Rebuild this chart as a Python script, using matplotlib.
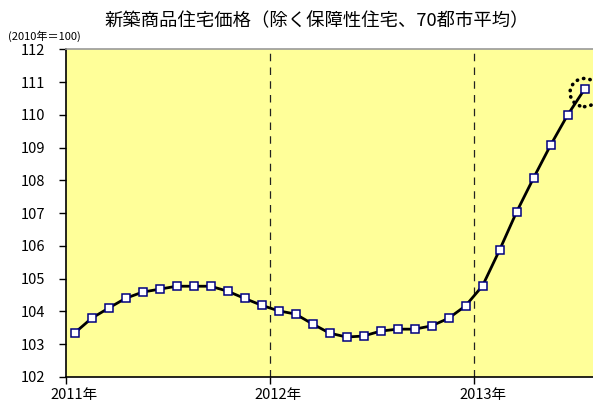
import matplotlib
matplotlib.use("Agg")
import matplotlib.pyplot as plt
from matplotlib.patches import Ellipse

plt.rcParams['font.family'] = ['Noto Sans CJK JP', 'DejaVu Sans']

title = "新築商品住宅価格（除く保障性住宅、70都市平均）"
unit_label = "(2010年＝100)"
year_labels = ["2011年", "2012年", "2013年"]
values = [
    103.34, 103.79, 104.10, 104.40, 104.59, 104.68, 104.77, 104.77, 104.77, 104.62, 104.40, 104.19,
    104.02, 103.92, 103.62, 103.34, 103.22, 103.25, 103.40, 103.46, 103.46, 103.56, 103.79, 104.17,
    104.78, 105.87, 107.03, 108.07, 109.07, 109.99, 110.78,
]
y_ticks = list(range(102, 113))

W, H = 593, 405
fig = plt.figure(figsize=(W / 100, H / 100), dpi=100)
ax = fig.add_axes([66 / W, (H - 377) / H, (W - 66) / W, (377 - 49.3) / H])
ax.set_facecolor('#FFFF99')

x = [i + 0.5 for i in range(len(values))]
ax.plot(x, values, color='black', lw=2, marker='s', markersize=5.5,
        markerfacecolor='white', markeredgecolor='#000080', markeredgewidth=1.1, zorder=5)

for b in (12, 24):
    ax.axvline(b, color='#222222', lw=0.9, ls=(0, (6, 5)), zorder=2)

ax.add_patch(Ellipse((30.5, 110.68), 1.7, 0.86, fill=False, edgecolor='black',
                     lw=2.6, ls=(0, (0.1, 1.7)), capstyle='round', zorder=6, clip_on=False))

ax.set_xlim(0, 31.0)
ax.set_ylim(102, 112)
ax.set_yticks(y_ticks)
ax.set_yticklabels([str(v) for v in y_ticks], fontsize=10.5)
ax.tick_params(axis='y', length=5, width=1, pad=10, direction='out')

ax.set_xticks([0, 12, 24])
ax.set_xticklabels([])
ax.tick_params(axis='x', which='major', length=5, width=1, direction='out')
ax.set_xticks([0.5, 12.5, 24.5], minor=True)
ax.set_xticklabels(year_labels, minor=True, fontsize=10.5)
ax.tick_params(axis='x', which='minor', length=0, pad=8)

ax.spines['left'].set_linewidth(1.2)
ax.spines['bottom'].set_linewidth(1.2)
ax.spines['top'].set_color('#999999')
ax.spines['top'].set_linewidth(1.2)
ax.spines['right'].set_visible(False)

fig.text(317 / W, 1 - 21 / H, title, ha='center', va='center', fontsize=13.2)
fig.text(8 / W, 1 - 36 / H, unit_label, ha='left', va='center', fontsize=8)

fig.savefig('out.png', dpi=100)
